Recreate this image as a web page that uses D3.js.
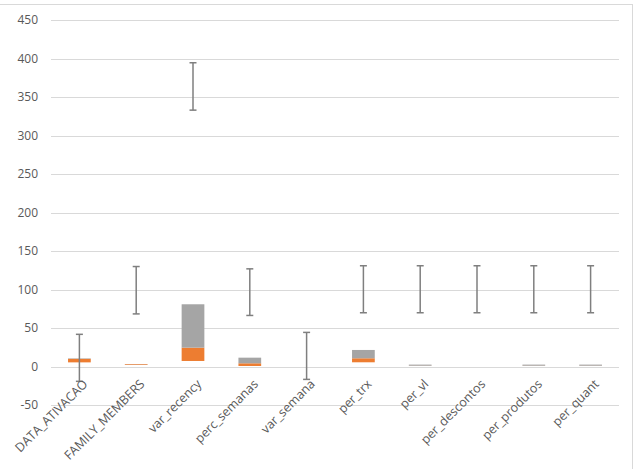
<!DOCTYPE html>
<html>
<head>
<meta charset="utf-8">
<script src="https://cdn.jsdelivr.net/npm/d3@7"></script>
<style>
  body { margin: 0; background: #fff; }
  text { font-family: "Open Sans", sans-serif; fill: #595959; }
</style>
</head>
<body>
<div id="chart"></div>
<script>
var width = 636;
var height = 469;

// data
var categories = ["DATA_ATIVACAO", "FAMILY_MEMBERS", "var_recency", "perc_semanas", "var_semana",
                  "per_trx", "per_vl", "per_descontos", "per_produtos", "per_quant"];
var base   = [5.6, 2.2, 7.4, 0.9, 0, 5.7, 1.0, 0, 1.0, 1.0];     // hidden series
var lower  = [4.6, 1.0, 17.3, 3.5, 0, 5.2, 0.2, 0, 0.2, 0.2];    // orange
var upper  = [0.6, 0.2, 56.3, 7.3, 0, 10.8, 1.5, 0, 1.5, 1.5];   // gray
var errLow  = [-19, 68.5, 333, 66.5, -16.5, 70, 70, 70, 70, 70];
var errHigh = [42, 130, 394.5, 127, 44.5, 131, 131, 131, 131, 131];
var yTicks = [-50, 0, 50, 100, 150, 200, 250, 300, 350, 400, 450];

var svg = d3.select("#chart")
    .append("svg")
    .attr("width", width)
    .attr("height", height);

var margin = ({top: 20, right: 17, bottom: 64, left: 51}),
    iwidth = width - margin.left - margin.right;

// chart frame
svg.append("rect")
    .attr("x", -1).attr("y", 4.5)
    .attr("width", 633.5).attr("height", 470)
    .attr("fill", "none")
    .attr("stroke", "#d9d9d9");

var g = svg.append("g")
    .attr("transform", "translate(" + margin.left + "," + margin.top + ")");

var x = d3.scaleBand().domain(categories).range([0, iwidth]).paddingInner(0.6).paddingOuter(0.3);
// 450 at top, 0 at ~366.7
var y = d3.scaleLinear().domain([-50, 450]).range([385.2, 0]);

// gridlines
g.selectAll(".grid")
    .data(yTicks)
    .enter().append("line")
    .attr("x1", 0).attr("x2", iwidth)
    .attr("y1", function(d) { return Math.round(y(d)) + 0.5; })
    .attr("y2", function(d) { return Math.round(y(d)) + 0.5; })
    .attr("stroke", "#d9d9d9")
    .attr("stroke-width", 1);

// y labels
g.selectAll(".ylab")
    .data(yTicks)
    .enter().append("text")
    .attr("x", -13)
    .attr("y", function(d) { return y(d); })
    .attr("dy", "0.35em")
    .attr("text-anchor", "end")
    .style("font-size", "12px")
    .text(function(d) { return d; });

// stacked columns
var rows = categories.map(function(c, i) {
  return {cat: c, base: base[i], lower: lower[i], upper: upper[i]};
});
var stack = d3.stack().keys(["base", "lower", "upper"]);
var series = stack(rows);
var colors = {base: "none", lower: "#ED7D31", upper: "#A5A5A5"};

g.selectAll(".series")
    .data(series)
    .enter().append("g")
    .attr("fill", function(d) { return colors[d.key]; })
    .selectAll("rect")
    .data(function(d) { return d; })
    .enter().append("rect")
    .attr("x", function(d) { return x(d.data.cat); })
    .attr("width", x.bandwidth())
    .attr("y", function(d) { return y(d[1]); })
    .attr("height", function(d) { return y(d[0]) - y(d[1]); });

// error bars
var eb = g.selectAll(".err")
    .data(categories)
    .enter().append("g")
    .attr("stroke", "#7f7f7f")
    .attr("stroke-width", 1.5);
eb.append("line")
    .attr("x1", function(d) { return x(d) + x.bandwidth() / 2; })
    .attr("x2", function(d) { return x(d) + x.bandwidth() / 2; })
    .attr("y1", function(d, i) { return y(errLow[i]); })
    .attr("y2", function(d, i) { return y(errHigh[i]); });
eb.append("line")
    .attr("x1", function(d) { return x(d) + x.bandwidth() / 2 - 3.5; })
    .attr("x2", function(d) { return x(d) + x.bandwidth() / 2 + 3.5; })
    .attr("y1", function(d, i) { return y(errLow[i]); })
    .attr("y2", function(d, i) { return y(errLow[i]); });
eb.append("line")
    .attr("x1", function(d) { return x(d) + x.bandwidth() / 2 - 3.5; })
    .attr("x2", function(d) { return x(d) + x.bandwidth() / 2 + 3.5; })
    .attr("y1", function(d, i) { return y(errHigh[i]); })
    .attr("y2", function(d, i) { return y(errHigh[i]); });

// category labels
g.selectAll(".xlab")
    .data(categories)
    .enter().append("text")
    .attr("transform", function(d) {
      return "translate(" + (x(d) + x.bandwidth() / 2 + 6) + "," + (y(0) + 15) + ") rotate(-45)";
    })
    .attr("text-anchor", "end")
    .attr("dy", "0.35em")
    .style("font-size", "12.5px")
    .text(function(d) { return d; });
</script>
</body>
</html>
